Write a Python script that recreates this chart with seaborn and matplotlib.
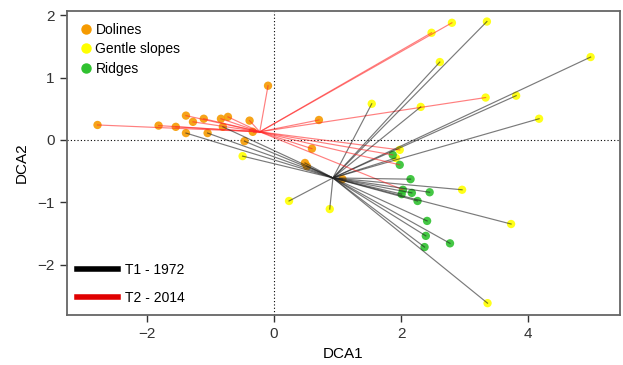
import matplotlib
matplotlib.use("Agg")
import matplotlib.pyplot as plt
import seaborn as sns
import pandas as pd
from matplotlib.lines import Line2D

# DCA scores
dca1 = [-2.77, -1.81, -1.54, -1.38, -1.27, -1.10, -0.83, -0.72, -0.38, -0.33, -0.09, 0.71, 0.60,
        -1.38, -1.04, -0.80, -0.46, 0.49, 0.52, 1.08,
        2.80, 2.48, 3.33, 1.98,
        3.35, 2.61, 4.98, 1.54, 2.31, 3.81, 4.17, 1.92, 2.96, 3.73, 3.36, -0.49, 0.24, 0.88,
        1.87, 1.98, 2.03,
        2.01, 2.15, 2.17, 2.45, 2.26, 2.41, 2.39, 2.77, 2.37]
dca2 = [0.24, 0.23, 0.21, 0.39, 0.29, 0.34, 0.34, 0.37, 0.31, 0.13, 0.87, 0.32, -0.14,
        0.11, 0.11, 0.21, -0.02, -0.37, -0.42, -0.63,
        1.88, 1.72, 0.68, -0.16,
        1.90, 1.25, 1.33, 0.58, 0.53, 0.71, 0.34, -0.29, -0.80, -1.35, -2.62, -0.26, -0.98, -1.11,
        -0.24, -0.40, -0.80,
        -0.87, -0.63, -0.85, -0.84, -0.98, -1.30, -1.54, -1.66, -1.72]
habitat = (["Dolines"] * 20 + ["Gentle slopes"] * 18 + ["Ridges"] * 12)
period = (["T2"] * 13 + ["T1"] * 7 + ["T2"] * 4 + ["T1"] * 14 + ["T2"] * 3 + ["T1"] * 9)

# group centroids (spider centres)
centroid_t1 = (0.93, -0.61)
centroid_t2 = (-0.22, 0.13)

df = pd.DataFrame({"DCA1": dca1, "DCA2": dca2, "habitat": habitat, "period": period})

palette = {"Dolines": "#f59a00", "Gentle slopes": "#ffff00", "Ridges": "#2fc12f"}
line_cols = {"T1": "#222222", "T2": "#ff2a2a"}

plt.rcParams["font.family"] = ["Liberation Sans", "DejaVu Sans"]
fig = plt.figure(figsize=(6.23, 3.65), dpi=100)
ax = fig.add_axes([0.1075, 0.137, 0.8875, 0.833])

sns.scatterplot(data=df, x="DCA1", y="DCA2", hue="habitat", palette=palette,
                s=36, linewidth=0, alpha=0.9, ax=ax, legend=False, zorder=2)

# spider lines from each period centroid
for _, r in df.iterrows():
    c = centroid_t1 if r["period"] == "T1" else centroid_t2
    ax.plot([c[0], r["DCA1"]], [c[1], r["DCA2"]], color=line_cols[r["period"]],
            lw=0.85, alpha=0.6, zorder=3)

ax.axhline(0, color="black", ls=(0, (1, 2)), lw=0.8, zorder=1)
ax.axvline(0, color="black", ls=(0, (1, 2)), lw=0.8, zorder=1)

ax.set_xlim(-3.25, 5.44)
ax.set_ylim(-2.81, 2.07)
ax.set_xticks([-2, 0, 2, 4])
ax.set_yticks([-2, -1, 0, 1, 2])
ax.set_xticklabels(["\u22122", "0", "2", "4"])
ax.set_yticklabels(["\u22122", "\u22121", "0", "1", "2"])
ax.tick_params(direction="out", length=5, width=1, colors="#333333", labelsize=11, pad=4)
for sp in ax.spines.values():
    sp.set_color("#666666")
    sp.set_linewidth(1.3)
ax.set_xlabel("DCA1", fontsize=11, labelpad=4)
ax.set_ylabel("DCA2", fontsize=11, labelpad=6)

h1 = [Line2D([], [], marker="o", ls="", color=palette[k], markersize=6.5) for k in palette]
leg1 = ax.legend(h1, list(palette), loc="upper left", frameon=False, fontsize=10,
                 handletextpad=0.2, labelspacing=0.4, borderaxespad=0.45, handlelength=1.0)
ax.add_artist(leg1)
h2 = [Line2D([], [], color="black", lw=4), Line2D([], [], color="#e00000", lw=4)]
ax.legend(h2, ["T1 - 1972", "T2 - 2014"], loc="lower left", frameon=False, fontsize=10,
          handlelength=3.0, handletextpad=0.5, labelspacing=1.05, borderaxespad=0.3)

plt.savefig("out.png", dpi=100)
